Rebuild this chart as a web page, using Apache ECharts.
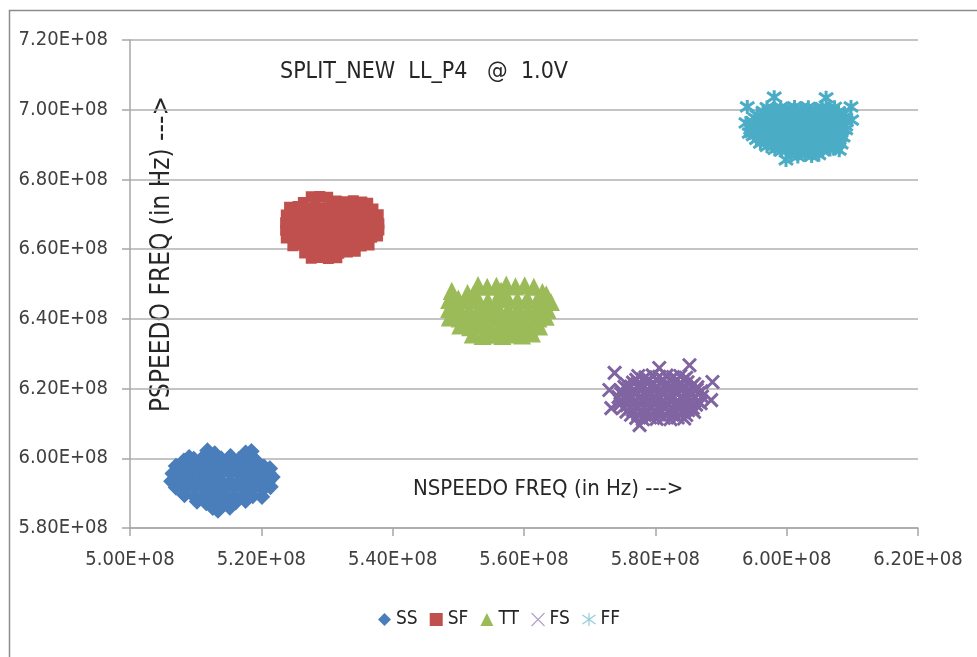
<!DOCTYPE html>
<html>
<head>
<meta charset="utf-8">
<script src="https://cdn.jsdelivr.net/npm/echarts@6/dist/echarts.min.js"></script>
<style>
  html, body { margin: 0; padding: 0; background: #fff; }
  #chart { width: 977px; height: 657px; }
</style>
</head>
<body>
<div id="chart"></div>
<script>
// values are in MHz (x = NSPEEDO, y = PSPEEDO), labels show them in Hz
const ssPoints = [
  [511.8,602.2],[512.9,601.4],[517.6,601.6],[518.5,602.0],[509.0,600.3],[515.3,600.6],
  [508.2,599.3],[509.7,599.8],[511.0,600.0],[512.4,599.6],[513.9,599.9],[515.0,599.2],[516.6,599.7],[518.0,599.9],[519.3,599.1],
  [507.0,597.8],[508.5,597.3],[510.1,597.6],[511.6,597.9],[513.0,597.2],[514.6,597.7],[516.0,597.4],[517.5,597.8],[519.0,597.3],[520.4,597.6],[521.3,597.1],
  [506.5,595.6],[507.9,595.2],[509.4,595.8],[510.9,595.3],[512.3,595.7],[513.8,595.4],[515.3,595.8],[516.8,595.2],[518.2,595.6],[519.7,595.3],[521.1,595.8],[521.7,594.6],
  [506.3,593.4],[507.7,593.8],[509.2,593.2],[510.7,593.6],[512.2,593.3],[513.7,593.7],[515.2,593.1],[516.7,593.6],[518.2,593.2],[519.6,593.7],[521.0,593.3],
  [507.0,591.6],[508.4,591.2],[509.9,591.7],[511.4,591.3],[512.9,591.5],[514.4,591.2],[515.9,591.7],[517.4,591.3],[518.9,591.6],[520.3,591.2],[521.4,591.8],
  [508.3,589.5],[509.8,589.1],[511.3,589.6],[512.8,589.2],[514.3,589.5],[515.8,589.1],[517.3,589.6],[518.7,589.2],[520.1,589.0],
  [510.2,587.6],[511.6,587.2],[513.1,587.5],[514.6,587.1],[516.1,587.4],[517.6,587.8],
  [512.6,585.8],[513.4,585.0],[515.2,585.9]
];
const sfPoints = [
  [527.6,675.0],[528.9,675.1],[530.1,674.9],
  [526.4,673.4],[531.4,673.8],[532.7,673.6],[534.0,673.9],[535.3,673.5],[536.2,673.2],
  [524.3,672.0],[525.6,672.2],[526.9,671.8],[528.2,672.1],[529.5,671.9],[530.8,672.2],[532.1,671.8],[533.4,672.0],[534.7,671.7],[536.0,672.1],[537.0,671.5],
  [523.8,669.8],[525.1,670.0],[526.4,669.6],[527.7,669.9],[529.0,669.7],[530.3,670.0],[531.6,669.6],[532.9,669.9],[534.2,669.5],[535.5,669.8],[536.8,669.6],[537.8,669.9],
  [523.7,667.6],[525.0,667.4],[526.3,667.8],[527.6,667.5],[528.9,667.7],[530.2,667.3],[531.5,667.7],[532.8,667.4],[534.1,667.8],[535.4,667.5],[536.7,667.7],[537.9,667.3],
  [523.7,665.4],[525.0,665.6],[526.3,665.2],[527.6,665.5],[528.9,665.3],[530.2,665.6],[531.5,665.2],[532.8,665.5],[534.1,665.3],[535.4,665.6],[536.7,665.2],[537.9,665.5],
  [523.8,663.2],[525.1,663.0],[526.4,663.4],[527.7,663.1],[529.0,663.3],[530.3,663.0],[531.6,663.4],[532.9,663.1],[534.2,663.3],[535.5,663.0],[536.8,663.4],[537.7,663.8],
  [524.8,661.0],[526.1,661.2],[527.4,660.8],[528.7,661.1],[530.0,660.9],[531.3,661.2],[532.6,660.8],[533.9,661.1],[535.2,660.9],[536.4,661.2],
  [526.6,658.9],[527.9,659.1],[529.2,658.7],[530.5,659.0],[531.8,658.8],[533.1,659.2],[534.3,659.4],
  [527.6,657.4],[528.9,657.6],[530.2,657.3],[531.5,657.5]
];
const ttPoints = [
  [553.0,649.5],[554.4,649.0],[555.8,649.3],[557.3,649.6],[558.7,649.1],[560.1,649.4],[561.5,649.0],
  [549.0,647.8],[551.4,647.2],[552.3,646.9],[556.5,647.8],[562.8,647.5],[563.4,646.8],
  [548.6,645.2],[550.0,645.6],[551.5,645.1],[553.0,645.5],[554.5,645.0],[556.0,645.4],[557.5,645.7],[559.0,645.2],[560.5,645.6],[562.0,645.1],[563.5,645.3],[564.1,644.6],
  [548.6,642.6],[550.1,642.9],[551.6,642.4],[553.1,642.8],[554.6,642.5],[556.1,642.9],[557.6,642.4],[559.1,642.8],[560.6,642.5],[562.1,642.9],[563.6,642.3],
  [548.7,640.2],[550.2,639.9],[551.7,640.3],[553.2,639.8],[554.7,640.2],[556.2,639.9],[557.7,640.3],[559.2,639.8],[560.7,640.2],[562.2,639.9],[563.3,640.4],
  [550.3,637.9],[551.8,637.4],[553.3,637.8],[554.8,637.3],[556.3,637.7],[557.8,637.4],[559.3,637.8],[560.8,637.3],[562.3,637.6],
  [552.2,635.3],[553.7,634.9],[555.2,635.2],[556.7,634.9],[558.2,635.3],[559.7,635.0],[561.2,635.6]
];
const fsPoints = [
  [585.2,626.7],[573.8,624.5],[573.0,619.6],[573.3,614.4],[577.6,609.5],[588.7,621.9],[588.5,616.7],[580.6,625.9],
  [577.4,623.6],[578.5,623.2],[579.6,623.8],[580.6,623.4],[581.7,623.7],[582.7,623.3],[583.8,623.6],[584.7,623.1],
  [577.1,622.5],[578.1,622.6],[579.1,622.4],[580.1,622.6],[581.2,622.5],[582.2,622.4],[583.3,622.6],[584.3,622.5],
  [575.6,621.3],[576.6,621.7],[577.6,621.4],[578.7,621.8],[579.7,621.3],[580.8,621.6],[581.8,621.2],[582.9,621.7],[583.9,621.4],[584.9,621.8],[585.9,621.3],
  [575.3,620.5],[576.3,620.6],[577.3,620.4],[578.3,620.5],[579.3,620.6],[580.4,620.4],[581.4,620.5],[582.4,620.6],[583.4,620.4],[584.5,620.5],[585.5,620.6],[586.4,620.4],
  [574.8,619.4],[575.8,619.8],[576.9,619.3],[577.9,619.7],[579.0,619.4],[580.0,619.8],[581.1,619.3],[582.1,619.6],[583.2,619.4],[584.2,619.8],[585.3,619.3],[586.3,619.7],[587.0,619.2],
  [574.8,618.5],[575.9,618.4],[577.0,618.6],[578.1,618.5],[579.1,618.4],[580.2,618.6],[581.3,618.5],[582.3,618.4],[583.4,618.6],[584.5,618.5],[585.5,618.4],[586.5,618.6],
  [574.4,617.6],[575.5,617.2],[576.5,617.7],[577.6,617.3],[578.6,617.6],[579.7,617.2],[580.7,617.7],[581.8,617.4],[582.8,617.8],[583.9,617.3],[584.9,617.6],[586.0,617.2],[587.1,617.7],
  [574.6,616.5],[575.7,616.6],[576.8,616.4],[577.9,616.5],[578.9,616.6],[580.0,616.4],[581.1,616.5],[582.2,616.6],[583.3,616.4],[584.3,616.5],[585.4,616.6],[586.5,616.4],
  [574.7,615.6],[575.7,615.2],[576.8,615.7],[577.8,615.3],[578.9,615.6],[579.9,615.2],[581.0,615.7],[582.0,615.3],[583.1,615.6],[584.1,615.2],[585.2,615.7],[586.2,615.4],[586.9,615.8],
  [575.1,614.5],[576.2,614.4],[577.2,614.6],[578.3,614.5],[579.4,614.4],[580.4,614.6],[581.5,614.5],[582.6,614.4],[583.6,614.6],[584.7,614.5],[585.7,614.4],
  [575.6,613.4],[576.6,613.8],[577.7,613.3],[578.7,613.7],[579.8,613.4],[580.8,613.8],[581.9,613.3],[582.9,613.6],[584.0,613.4],[585.0,613.8],[585.9,613.3],
  [576.3,612.5],[577.4,612.6],[578.4,612.4],[579.5,612.5],[580.5,612.6],[581.6,612.4],[582.6,612.5],[583.7,612.6],[584.7,612.4],
  [577.1,611.6],[578.1,611.2],[579.2,611.7],[580.2,611.3],[581.3,611.6],[582.3,611.2],[583.4,611.7],[584.4,611.4]
];
const ffPoints = [
  [594.0,700.8],[598.1,703.6],[606.0,703.4],[609.8,700.8],[593.8,696.2],[594.3,693.3],[599.9,685.6],[608.0,688.4],[609.9,697.0],
  [597.0,700.6],[598.0,700.2],[599.1,700.7],[600.1,700.3],[601.2,700.8],[602.2,700.4],[603.3,700.7],[604.3,700.2],[605.4,700.6],[606.4,700.3],[607.3,700.7],
  [596.4,699.5],[597.4,699.6],[598.5,699.4],[599.5,699.5],[600.6,699.6],[601.6,699.4],[602.7,699.5],[603.7,699.6],[604.8,699.4],[605.8,699.5],[606.9,699.6],[607.9,699.4],
  [595.5,698.4],[596.5,698.8],[597.6,698.3],[598.6,698.7],[599.7,698.4],[600.7,698.8],[601.8,698.3],[602.8,698.7],[603.9,698.4],[604.9,698.8],[606.0,698.3],[607.0,698.7],[608.1,698.4],[608.8,698.9],
  [595.2,697.5],[596.2,697.6],[597.3,697.4],[598.3,697.5],[599.4,697.6],[600.4,697.4],[601.5,697.5],[602.5,697.6],[603.6,697.4],[604.6,697.5],[605.7,697.6],[606.7,697.4],[607.8,697.5],[608.7,697.6],
  [594.8,696.6],[595.8,696.2],[596.9,696.7],[597.9,696.3],[599.0,696.6],[600.0,696.2],[601.1,696.7],[602.1,696.3],[603.2,696.6],[604.2,696.2],[605.3,696.7],[606.3,696.3],[607.4,696.6],[608.4,696.2],[609.1,696.7],
  [594.6,695.5],[595.6,695.6],[596.7,695.4],[597.7,695.5],[598.8,695.6],[599.8,695.4],[600.9,695.5],[601.9,695.6],[603.0,695.4],[604.0,695.5],[605.1,695.6],[606.1,695.4],[607.2,695.5],[608.2,695.6],[609.0,695.4],
  [594.5,694.4],[595.5,694.8],[596.6,694.3],[597.6,694.7],[598.7,694.4],[599.7,694.8],[600.8,694.3],[601.8,694.7],[602.9,694.4],[603.9,694.8],[605.0,694.3],[606.0,694.7],[607.1,694.4],[608.1,694.8],[609.0,694.3],
  [594.7,693.5],[595.7,693.6],[596.8,693.4],[597.8,693.5],[598.9,693.6],[599.9,693.4],[601.0,693.5],[602.0,693.6],[603.1,693.4],[604.1,693.5],[605.2,693.6],[606.2,693.4],[607.3,693.5],[608.3,693.6],
  [594.9,692.6],[595.9,692.2],[597.0,692.7],[598.0,692.3],[599.1,692.6],[600.1,692.2],[601.2,692.7],[602.2,692.3],[603.3,692.6],[604.3,692.2],[605.4,692.7],[606.4,692.3],[607.5,692.6],[608.6,692.2],
  [595.4,691.5],[596.4,691.6],[597.5,691.4],[598.5,691.5],[599.6,691.6],[600.6,691.4],[601.7,691.5],[602.7,691.6],[603.8,691.4],[604.8,691.5],[605.9,691.6],[606.9,691.4],[608.0,691.5],
  [596.0,690.4],[597.0,690.8],[598.1,690.3],[599.1,690.7],[600.2,690.4],[601.2,690.8],[602.3,690.3],[603.3,690.7],[604.4,690.4],[605.4,690.8],[606.5,690.3],[607.5,690.7],[608.3,690.2],
  [597.0,689.5],[598.0,689.6],[599.1,689.4],[600.1,689.5],[601.2,689.6],[602.2,689.4],[603.3,689.5],[604.3,689.6],[605.4,689.4],[606.4,689.5],[607.4,689.6],
  [598.2,688.6],[599.2,688.2],[600.3,688.7],[601.3,688.3],[602.4,688.6],[603.4,688.2],[604.5,688.7],[605.5,688.3],[606.6,688.6],[607.3,688.9],
  [600.6,687.0],[601.7,686.6],[602.8,687.1],[603.8,686.7],[604.9,687.1]
];

const seriesNames = ['SS', 'SF', 'TT', 'FS', 'FF'];
const titleText = 'SPLIT_NEW  LL_P4   @  1.0V';
const xName = 'NSPEEDO FREQ (in Hz) --->';
const yName = 'PSPEEDO FREQ (in Hz) --->';

const FONT = "'Liberation Sans Narrow', 'DejaVu Sans Condensed', 'Liberation Sans', sans-serif";
const xSym = 'path://M0,0L10,10M10,0L0,10';
const starSym = 'path://M5,0L5,10M0,1.5L10,8.5M10,1.5L0,8.5';

const chart = echarts.init(document.getElementById('chart'));

const fmt = function (v) { return (v / 100).toFixed(2) + 'E+08'; };

chart.setOption({
  animation: false,
  backgroundColor: '#fff',
  grid: { left: 130, right: 59, top: 40, bottom: 129 },
  xAxis: {
    type: 'value', min: 500, max: 620, interval: 20,
    axisLine: { show: true, lineStyle: { color: '#a6a6a6', width: 1.5 } },
    axisTick: { show: true, length: 8, lineStyle: { color: '#a6a6a6', width: 1.5 } },
    splitLine: { show: false },
    axisLabel: { formatter: fmt, color: '#404040', fontSize: 20, fontFamily: FONT, margin: 22 }
  },
  yAxis: {
    type: 'value', min: 580, max: 720, interval: 20,
    axisLine: { show: true, lineStyle: { color: '#a6a6a6', width: 1.5 } },
    axisTick: { show: true, length: 8, lineStyle: { color: '#a6a6a6', width: 1.5 } },
    splitLine: { show: true, lineStyle: { color: '#b0b0b0', width: 1.5 } },
    axisLabel: { formatter: fmt, color: '#404040', fontSize: 20, fontFamily: FONT, margin: 22 }
  },
  legend: {
    bottom: 23, left: 373,
    itemWidth: 13, itemHeight: 13, itemGap: 12,
    textStyle: { color: '#262626', fontSize: 19, fontFamily: FONT },
    data: [
      { name: 'SS', itemStyle: { borderWidth: 0 } },
      { name: 'SF', itemStyle: { borderWidth: 0 } },
      { name: 'TT', itemStyle: { borderWidth: 0 } },
      { name: 'FS', itemStyle: { borderWidth: 1.2, color: '#b3a2c7', borderColor: '#b3a2c7' } },
      { name: 'FF', itemStyle: { borderWidth: 1.2, color: '#93cddd', borderColor: '#93cddd' } }
    ]
  },
  graphic: [
    { type: 'rect', left: 7, top: 8, shape: { width: 1000, height: 700 }, silent: true,
      style: { fill: 'none', stroke: '#8c8c8c', lineWidth: 1.5 } },
    { type: 'text', left: 280, top: 61, silent: true,
      style: { text: titleText, fill: '#262626', font: '23px ' + FONT } },
    { type: 'text', left: 413, top: 478, silent: true,
      style: { text: xName, fill: '#262626', font: '22px ' + FONT } },
    { type: 'text', x: 162, y: 254, rotation: Math.PI / 2, silent: true,
      style: { text: yName, fill: '#262626', font: '26px ' + FONT, align: 'center', verticalAlign: 'middle' } }
  ],
  series: [
    { name: 'SS', type: 'scatter', data: ssPoints, symbol: 'diamond', symbolSize: 13,
      itemStyle: { color: '#4A7EBB', borderColor: '#4A7EBB', borderWidth: 2.5, opacity: 1 } },
    { name: 'SF', type: 'scatter', data: sfPoints, symbol: 'rect', symbolSize: 9,
      itemStyle: { color: '#C0504D', borderColor: '#C0504D', borderWidth: 2, opacity: 1 } },
    { name: 'TT', type: 'scatter', data: ttPoints, symbol: 'triangle', symbolSize: 14,
      itemStyle: { color: '#9BBB59', borderColor: '#9BBB59', borderWidth: 2.5, opacity: 1 } },
    { name: 'FS', type: 'scatter', data: fsPoints, symbol: xSym, symbolSize: 13,
      itemStyle: { color: '#8064A2', borderColor: '#8064A2', borderWidth: 3, opacity: 1 } },
    { name: 'FF', type: 'scatter', data: ffPoints, symbol: starSym, symbolSize: 14,
      itemStyle: { color: '#4BACC6', borderColor: '#4BACC6', borderWidth: 3, opacity: 1 } }
  ].map(function (s) { s.emphasis = { disabled: true }; return s; })
});
</script>
</body>
</html>
